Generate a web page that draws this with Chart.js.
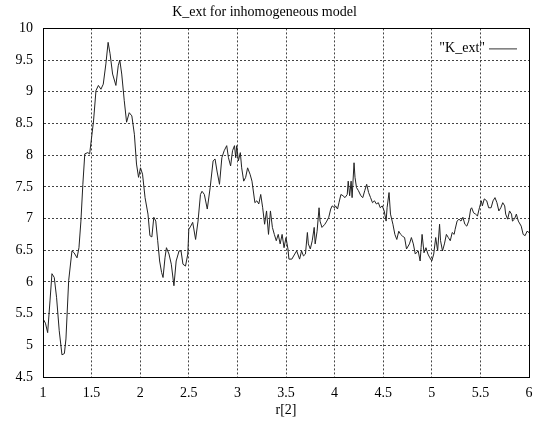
<!DOCTYPE html>
<html>
<head>
<meta charset="utf-8">
<script src="https://cdn.jsdelivr.net/npm/chart.js@4.4.1/dist/chart.umd.min.js"></script>
<style>
  html, body { margin: 0; padding: 0; background: #fff; }
  #c { display: block; }
</style>
</head>
<body>
<canvas id="c" width="547" height="421"></canvas>
<script>
// r[2] positions and K_ext values
const rValues = [
  1.00, 1.025, 1.048, 1.072, 1.092, 1.116, 1.14, 1.167, 1.195, 1.22, 1.236, 1.264, 1.298, 1.32, 1.35, 1.37, 1.39, 1.41, 1.43, 1.46,
  1.48, 1.50, 1.52, 1.545, 1.57, 1.596, 1.62, 1.647, 1.67, 1.69, 1.716, 1.75, 1.774, 1.79, 1.81, 1.836, 1.86, 1.887, 1.914, 1.94,
  1.962, 1.983, 2.003, 2.024, 2.05, 2.08, 2.10, 2.12, 2.14, 2.16, 2.18,
  2.20, 2.22, 2.235, 2.255, 2.27, 2.296, 2.32, 2.347, 2.37, 2.40, 2.42, 2.44, 2.466, 2.49, 2.50, 2.52, 2.54, 2.57, 2.595, 2.62,
  2.636, 2.66, 2.69, 2.72, 2.75, 2.77, 2.79, 2.816, 2.84, 2.864, 2.89, 2.908, 2.93, 2.95, 2.97, 2.983, 2.993, 3.01, 3.03, 3.044,
  3.065, 3.085, 3.105, 3.13, 3.15, 3.18, 3.20, 3.22, 3.24, 3.26, 3.28, 3.30, 3.32, 3.34, 3.36, 3.38, 3.40, 3.42,
  3.44, 3.46, 3.48, 3.50, 3.52, 3.53, 3.56, 3.59, 3.61, 3.64, 3.66, 3.68, 3.70, 3.72, 3.73, 3.75, 3.77, 3.79, 3.80, 3.82,
  3.84, 3.85, 3.87, 3.90, 3.92, 3.94, 3.96, 3.975, 4.00, 4.01, 4.03, 4.045, 4.065, 4.086, 4.107, 4.13, 4.14, 4.155, 4.17, 4.18,
  4.20, 4.21, 4.225, 4.245, 4.27, 4.29, 4.31, 4.33, 4.35, 4.37, 4.39, 4.41, 4.43, 4.45, 4.47, 4.49, 4.51, 4.53, 4.54, 4.56,
  4.575, 4.60, 4.62, 4.64, 4.66,
  4.68, 4.70, 4.72, 4.74, 4.77, 4.79, 4.81, 4.83, 4.86, 4.88, 4.89, 4.90, 4.92, 4.94, 4.96, 4.98, 5.00, 5.02, 5.04, 5.06,
  5.08, 5.09, 5.11, 5.13, 5.15, 5.17, 5.19, 5.21, 5.23, 5.24, 5.26, 5.28, 5.30, 5.32, 5.34, 5.36, 5.38, 5.40, 5.41, 5.43,
  5.45, 5.47, 5.49, 5.51, 5.52, 5.54, 5.565, 5.585, 5.61, 5.63, 5.65, 5.67, 5.69, 5.71, 5.73, 5.75, 5.76, 5.78, 5.80, 5.82,
  5.83, 5.85, 5.87, 5.89, 5.92, 5.94, 5.96, 5.98, 6.00
];
const kExt = [
  5.42, 5.35, 5.20, 5.70, 6.13, 6.07, 5.75, 5.23, 4.85, 4.87, 5.10, 6.02, 6.49, 6.46, 6.38, 6.54, 6.96, 7.54, 8.02, 8.04,
  8.02, 8.28, 8.54, 9.02, 9.10, 9.04, 9.12, 9.44, 9.78, 9.60, 9.28, 9.10, 9.41, 9.50, 9.28, 8.86, 8.52, 8.67, 8.62, 8.33,
  7.86, 7.65, 7.80, 7.70, 7.33, 7.07, 6.73, 6.71, 7.02, 6.96, 6.65,
  6.33, 6.15, 6.07, 6.38, 6.54, 6.44, 6.28, 5.94, 6.33, 6.49, 6.49, 6.28, 6.25, 6.44, 6.83, 6.88, 6.94, 6.67, 6.96, 7.38,
  7.43, 7.38, 7.15, 7.49, 7.91, 7.94, 7.75, 7.54, 7.96, 8.07, 8.15, 7.96, 7.83, 8.07, 8.15, 7.96, 8.15, 7.91, 8.04, 7.80,
  7.59, 7.65, 7.80, 7.70, 7.59, 7.25, 7.28, 7.23, 7.38, 7.17, 6.91, 7.12, 6.75, 7.12, 6.86, 6.75, 6.65, 6.75,
  6.60, 6.75, 6.54, 6.70, 6.52, 6.36, 6.36, 6.44, 6.49, 6.36, 6.49, 6.41, 6.44, 6.78, 6.60, 6.52, 6.65, 6.86, 6.60, 6.80,
  7.17, 6.96, 6.86, 6.91, 6.96, 7.02, 7.15, 7.20, 7.17, 7.20, 7.15, 7.25, 7.38, 7.36, 7.33, 7.38, 7.59, 7.36, 7.59, 7.33,
  7.88, 7.65, 7.49, 7.44, 7.36, 7.33, 7.44, 7.54, 7.41, 7.33, 7.25, 7.28, 7.23, 7.25, 7.17, 7.20, 7.12, 6.96, 7.17, 7.41,
  7.07, 6.91, 6.75, 6.67, 6.80,
  6.75, 6.72, 6.70, 6.52, 6.60, 6.70, 6.60, 6.44, 6.49, 6.33, 6.54, 6.75, 6.46, 6.54, 6.44, 6.38, 6.33, 6.44, 6.70, 6.49,
  6.91, 6.65, 6.49, 6.60, 6.75, 6.70, 6.65, 6.78, 6.75, 6.83, 6.96, 6.99, 6.96, 7.02, 6.91, 6.88, 6.96, 7.15, 7.17, 7.09,
  7.07, 7.04, 7.17, 7.28, 7.20, 7.31, 7.28, 7.17, 7.17, 7.28, 7.33, 7.25, 7.12, 7.17, 7.25, 7.20, 7.07, 6.99, 7.12, 7.07,
  6.96, 6.99, 7.07, 6.96, 6.88, 6.75, 6.73, 6.80, 6.78
];

const FONT = "'Liberation Serif', 'DejaVu Serif', serif";
const plainNumber = v => String(v);

// gnuplot style: solid frame round the plot and the key inside top-right
const framePlugin = {
  id: 'frame',
  afterDraw(chart) {
    const { ctx, chartArea: a } = chart;
    ctx.save();
    ctx.strokeStyle = '#000';
    ctx.lineWidth = 1;
    ctx.strokeRect(Math.round(a.left) + 0.5, Math.round(a.top) + 0.5,
      Math.round(a.right - a.left), Math.round(a.bottom - a.top));
    // key
    ctx.font = '14px ' + FONT;
    ctx.fillStyle = '#000';
    ctx.textAlign = 'right';
    ctx.textBaseline = 'middle';
    ctx.fillText('"K_ext"', a.right - 44, a.top + 20);
    ctx.beginPath();
    ctx.moveTo(a.right - 40, a.top + 20.5);
    ctx.lineTo(a.right - 12, a.top + 20.5);
    ctx.strokeStyle = '#333';
    ctx.stroke();
    ctx.restore();
  }
};

new Chart(document.getElementById('c'), {
  type: 'line',
  data: {
    datasets: [{
      label: '"K_ext"',
      data: rValues.map((r, i) => ({ x: r, y: kExt[i] })),
      borderColor: '#222',
      borderWidth: 1,
      pointRadius: 0,
      tension: 0,
      fill: false
    }]
  },
  options: {
    responsive: false,
    animation: false,
    layout: { padding: { left: 0, right: 18, top: 0, bottom: 0 } },
    plugins: {
      legend: { display: false },
      tooltip: { enabled: false },
      title: {
        display: true,
        text: 'K_ext for inhomogeneous model',
        color: '#000',
        font: { family: FONT, size: 14, weight: 'normal', lineHeight: 1.2 },
        padding: { top: 4, bottom: 7.6 }
      }
    },
    scales: {
      x: {
        type: 'linear',
        min: 1,
        max: 6,
        ticks: { stepSize: 0.5, color: '#000', padding: 8, font: { family: FONT, size: 14 }, callback: plainNumber },
        grid: { color: '#444', drawTicks: false },
        border: { display: true, color: '#000', dash: [2, 2] },
        title: { display: true, text: 'r[2]', color: '#000', padding: { top: 0, bottom: 2 }, font: { family: FONT, size: 14 } },
        afterFit(scale) { scale.height = 44; }
      },
      y: {
        type: 'linear',
        min: 4.5,
        max: 10,
        ticks: { stepSize: 0.5, color: '#000', padding: 10, font: { family: FONT, size: 14 }, callback: plainNumber },
        grid: { color: '#444', drawTicks: false },
        border: { display: true, color: '#000', dash: [2, 2] },
        afterFit(scale) { scale.width = 43; }
      }
    }
  },
  plugins: [framePlugin]
});
</script>
</body>
</html>
